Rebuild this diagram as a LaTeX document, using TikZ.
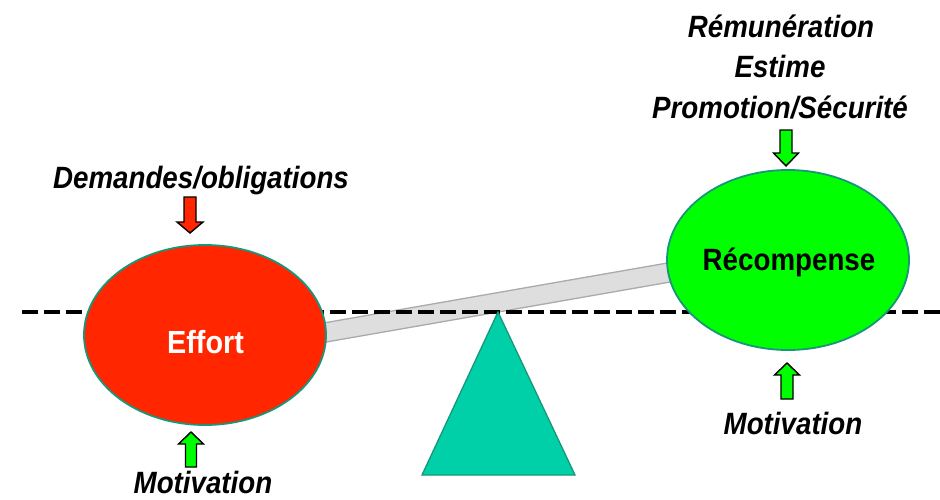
\documentclass[tikz,border=0pt]{standalone}
\usepackage{fontspec}
\setmainfont{Liberation Sans}[FakeStretch=0.9]
\usetikzlibrary{shapes.geometric}
\definecolor{effortred}{RGB}{255,38,0}
\definecolor{recgreen}{RGB}{0,255,0}
\definecolor{pivotteal}{RGB}{0,208,168}
\definecolor{rimteal}{RGB}{24,150,122}
\definecolor{beamfill}{RGB}{222,222,222}
\definecolor{beamrim}{RGB}{170,170,170}
\tikzset{
  lbl/.style={anchor=base,inner sep=0pt,font=\fontsize{30.8}{36}\selectfont\bfseries\itshape},
  blob/.style={ellipse,draw=rimteal,line width=1.8pt,minimum width=242pt,minimum height=180pt,inner sep=0pt},
  blockarrow/.style={draw=black,line width=1.4pt,line join=miter},
}
\begin{document}
\begin{tikzpicture}[x=1pt,y=-1pt]
\useasboundingbox (0,0) rectangle (940,499);
% beam
\coordinate (bl1) at (300,346.6);
\coordinate (bl2) at (700,276.8);
\coordinate (bt2) at (700,257.3);
\coordinate (bt1) at (300,327.1);
\draw[fill=beamfill,draw=beamrim,line width=1.3pt] (bl1) -- (bl2) -- (bt2) -- (bt1) -- cycle;
% dashed level line
\coordinate (dl) at (22,312);
\coordinate (dr) at (940,312);
\draw[line width=4.7pt,dash pattern=on 16pt off 6pt] (dl) -- (dr);
% pivot
\coordinate (apex) at (498,312);
\coordinate (baseL) at (422,475);
\coordinate (baseR) at (575,475);
\draw[fill=pivotteal,draw=rimteal,line width=1.3pt] (apex) -- (baseR) -- (baseL) -- cycle;
% ellipses
\node[blob,fill=effortred] (effort) at (205,335) {};
\node[blob,fill=recgreen] (recomp) at (788,260) {};
% texts inside
\node[anchor=base,inner sep=0pt,text=white,font=\fontsize{32}{36}\selectfont\bfseries] (efforttxt) at (205.5,353) {Effort};
\node[anchor=base,inner sep=0pt,font=\fontsize{30.8}{36}\selectfont\bfseries] (rectxt) at (789,270) {Récompense};
% labels
\node[lbl] (r1) at (781,37) {Rémunération};
\node[lbl] (r2) at (780,77.5) {Estime};
\node[lbl] (r3) at (780,118) {Promotion/Sécurité};
\node[lbl] (dem) at (201,188) {Demandes/obligations};
\node[lbl] (mot1) at (203,493) {Motivation};
\node[lbl] (mot2) at (793,434) {Motivation};
% block arrows
% red down arrow above Effort
\draw[blockarrow,fill=effortred] (184,197) -- (196,197) -- (196,222) -- (203,222) -- (190,233) -- (177,222) -- (184,222) -- cycle;
% green down arrow above Recompense
\draw[blockarrow,fill=recgreen] (780,130) -- (792,130) -- (792,153) -- (798.5,153) -- (786,166) -- (773.5,153) -- (780,153) -- cycle;
% green up arrow below Effort
\draw[blockarrow,fill=recgreen] (185.5,467) -- (196.5,467) -- (196.5,444) -- (203.5,444) -- (191,432) -- (178.5,444) -- (185.5,444) -- cycle;
% green up arrow below Recompense
\draw[blockarrow,fill=recgreen] (781,399) -- (793,399) -- (793,375) -- (799.5,375) -- (787,363) -- (774.5,375) -- (781,375) -- cycle;
\end{tikzpicture}
\end{document}
